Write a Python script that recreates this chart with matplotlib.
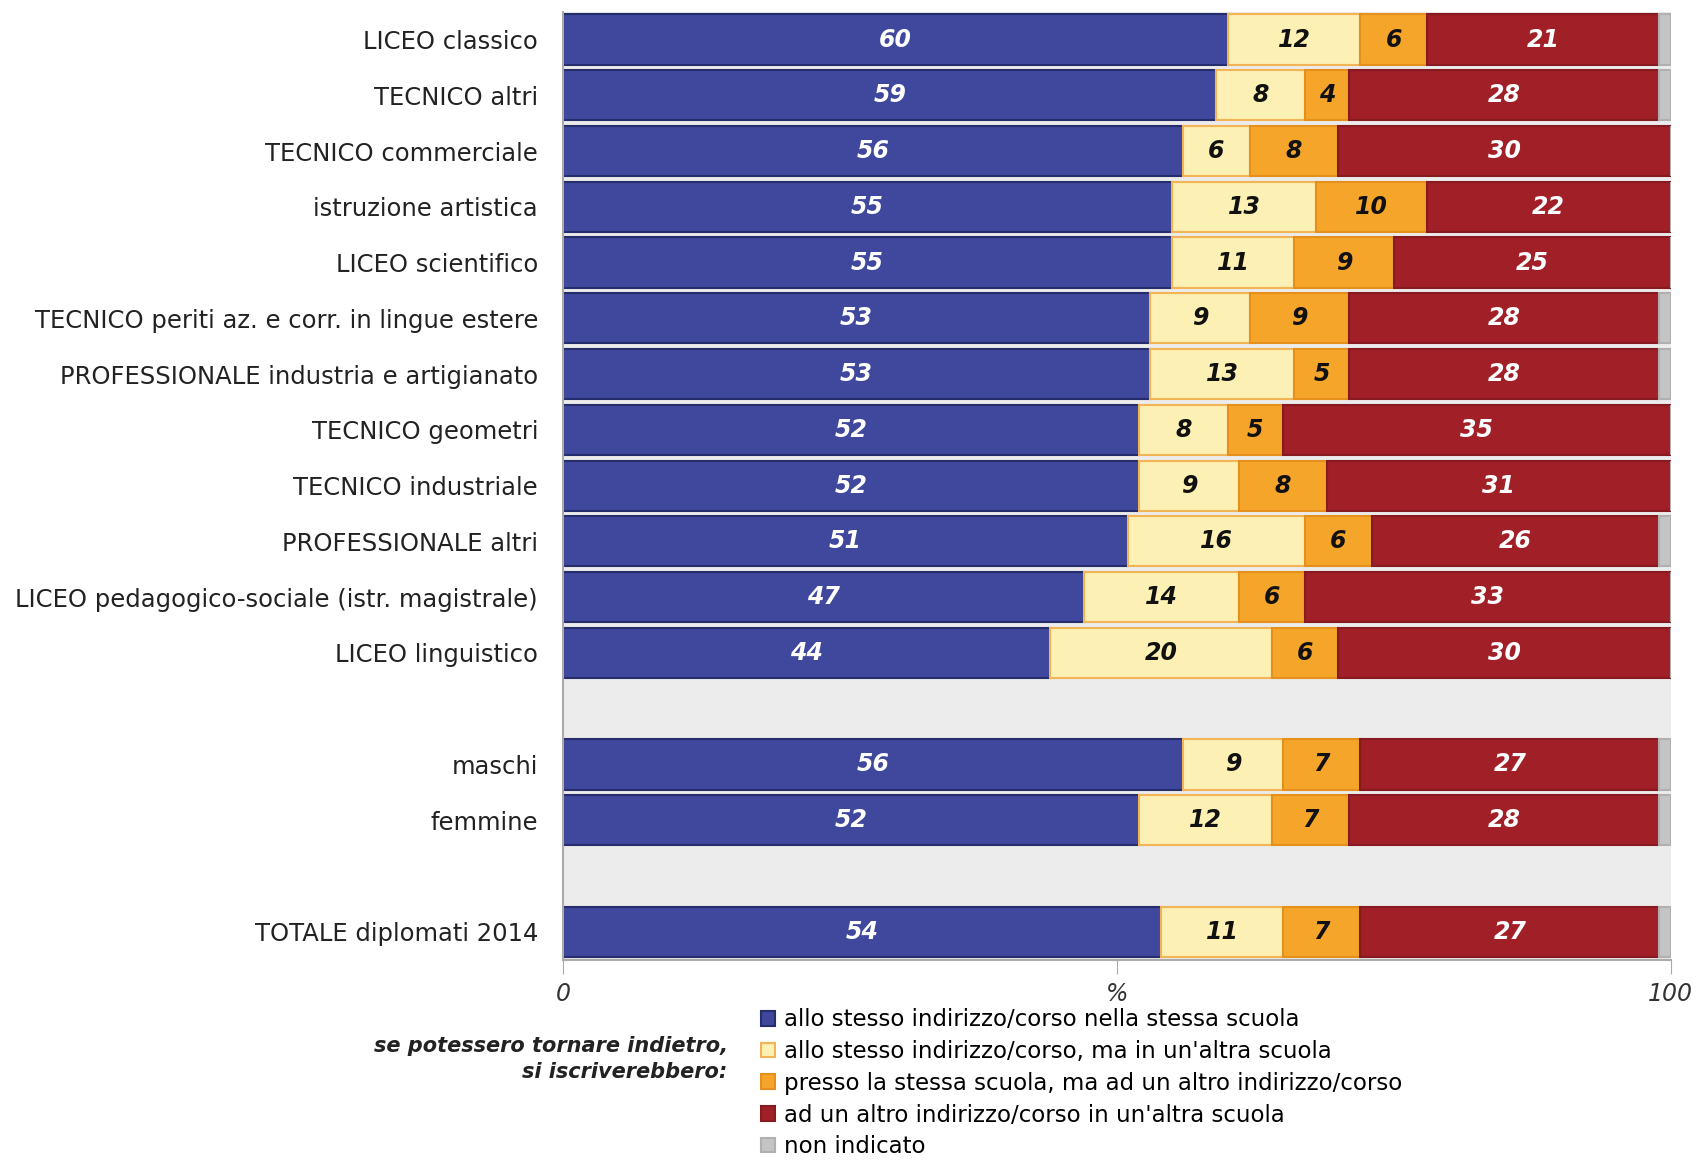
import numpy as np
import matplotlib
matplotlib.use("Agg")
import matplotlib.pyplot as plt
from matplotlib.patches import Patch

# rows, top to bottom
categories = ["LICEO classico", "TECNICO altri", "TECNICO commerciale",
              "istruzione artistica", "LICEO scientifico",
              "TECNICO periti az. e corr. in lingue estere",
              "PROFESSIONALE industria e artigianato", "TECNICO geometri",
              "TECNICO industriale", "PROFESSIONALE altri",
              "LICEO pedagogico-sociale (istr. magistrale)", "LICEO linguistico",
              "maschi", "femmine", "TOTALE diplomati 2014"]
ypos = [0, 1, 2, 3, 4, 5, 6, 7, 8, 9, 10, 11, 13, 14, 16]

stessa_scuola = [60, 59, 56, 55, 55, 53, 53, 52, 52, 51, 47, 44, 56, 52, 54]
altra_scuola = [12, 8, 6, 13, 11, 9, 13, 8, 9, 16, 14, 20, 9, 12, 11]
altro_indirizzo = [6, 4, 8, 10, 9, 9, 5, 5, 8, 6, 6, 6, 7, 7, 7]
altro_altra = [21, 28, 30, 22, 25, 28, 28, 35, 31, 26, 33, 30, 27, 28, 27]

legend_labels = ["allo stesso indirizzo/corso nella stessa scuola",
                 "allo stesso indirizzo/corso, ma in un'altra scuola",
                 "presso la stessa scuola, ma ad un altro indirizzo/corso",
                 "ad un altro indirizzo/corso in un'altra scuola",
                 "non indicato"]

series = [np.array(stessa_scuola), np.array(altra_scuola),
          np.array(altro_indirizzo), np.array(altro_altra)]
non_indicato = np.clip(100 - sum(series), 0, None)
series.append(non_indicato)

colors = ["#3f489c", "#fdf0b4", "#f5a52a", "#a11f27", "#c4c4c4"]
edges = ["#252d6c", "#f3b456", "#e5901c", "#861a20", "#b0b0b0"]
txtcol = ["white", "#111111", "#111111", "white", None]

fig = plt.figure(figsize=(16.96, 11.66), dpi=100)
ax = fig.add_axes([0.332, 0.177, 0.653, 0.813])
ax.set_facecolor("#ececec")

left = np.zeros(len(categories))
for i, vals in enumerate(series):
    ax.barh(ypos, vals, left=left, height=0.9, color=colors[i],
            edgecolor=edges[i], linewidth=1.5)
    if txtcol[i] is not None:
        for y, l, v in zip(ypos, left, vals):
            ax.text(l + v / 2, y, str(int(v)), ha="center", va="center",
                    color=txtcol[i], fontsize=17, fontweight="bold",
                    fontstyle="italic")
    left = left + vals

ax.set_xlim(0, 100)
ax.set_ylim(16.5, -0.5)
ax.set_yticks(ypos)
ax.set_yticklabels(categories, fontsize=17.5, color="#222222")
ax.tick_params(axis="y", length=0, pad=18)
ax.set_xticks([0, 50, 100])
ax.set_xticklabels(["0", "%", "100"], fontsize=17, fontstyle="italic",
                   color="#333333")
ax.tick_params(axis="x", length=10, color="#aaaaaa", pad=6)

for s in ["top", "right"]:
    ax.spines[s].set_visible(False)
for s in ["left", "bottom"]:
    ax.spines[s].set_color("#aaaaaa")
    ax.spines[s].set_linewidth(1.5)

fig.text(0.429, 0.092, "se potessero tornare indietro,\nsi iscriverebbero:",
         ha="right", va="center", fontsize=15, fontweight="bold",
         fontstyle="italic", color="#222222", linespacing=1.4)

handles = [Patch(facecolor=colors[i], edgecolor=edges[i], linewidth=1.5)
           for i in range(5)]
fig.legend(handles, legend_labels, loc="upper left",
           bbox_to_anchor=(0.442, 0.145), frameon=False, fontsize=16.5,
           handlelength=0.6, handleheight=0.6, handletextpad=0.4,
           labelspacing=0.38, borderpad=0)

fig.savefig("out.png", dpi=100)
